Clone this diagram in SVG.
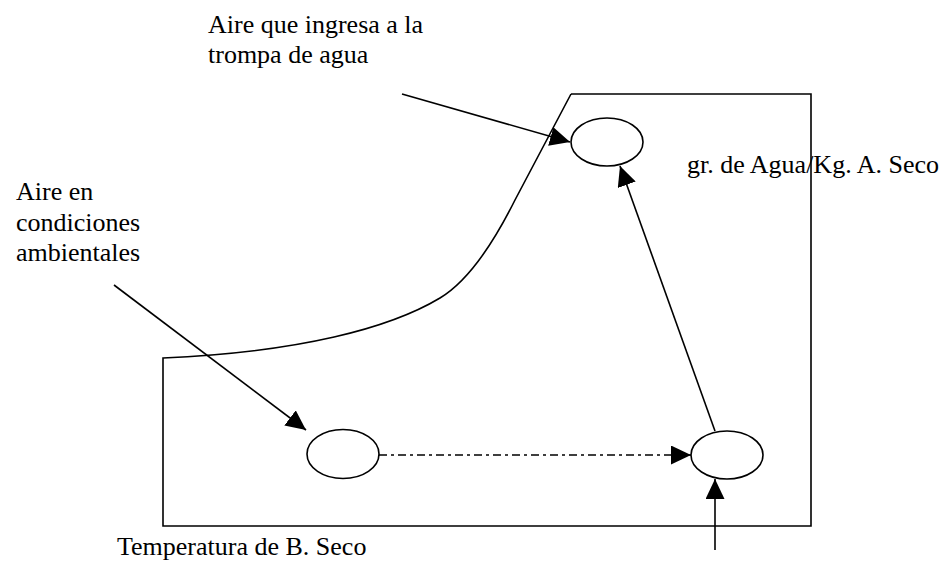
<svg xmlns="http://www.w3.org/2000/svg" width="952" height="565" viewBox="0 0 952 565">
<style>
.ln{fill:none;stroke:#000;stroke-width:1.6}
.nd{fill:#fff;stroke:#000;stroke-width:1.6}
.tx{font-family:"Liberation Serif","Times New Roman",serif;font-size:26px;fill:#000}
</style>
<defs>
<marker id="ah" markerUnits="userSpaceOnUse" markerWidth="20" markerHeight="19" refX="20" refY="9.5" orient="auto" viewBox="0 0 20 19">
<path d="M0,0 L20,9.5 L0,19 z" fill="#000"/>
</marker>
</defs>
<rect width="952" height="565" fill="#fff"/>
<g id="outline">
<path class="ln" d="M571,94 L811,94 L811,526 L163,526 L163,358 C300,352 390,328 440,298 C470,280 495,240 515,200 L571,94"/>
</g>
<g id="connectors">
<line class="ln" x1="402" y1="94" x2="570" y2="142" marker-end="url(#ah)"/>
<line class="ln" x1="114" y1="285" x2="306" y2="430" marker-end="url(#ah)"/>
<line class="ln" x1="379" y1="455" x2="691" y2="455" stroke-dasharray="8,4,3,4" marker-end="url(#ah)"/>
<line class="ln" x1="715" y1="431" x2="620" y2="166" marker-end="url(#ah)"/>
<line class="ln" x1="715" y1="550" x2="715" y2="479" marker-end="url(#ah)"/>
</g>
<g id="node-top"><ellipse class="nd" cx="607" cy="142" rx="36" ry="24"/></g>
<g id="node-left"><ellipse class="nd" cx="343" cy="454" rx="36" ry="24.5"/></g>
<g id="node-right"><ellipse class="nd" cx="727" cy="455" rx="36" ry="24"/></g>
<g id="labels">
<text class="tx" x="208" y="33">Aire que ingresa a la</text>
<text class="tx" x="208" y="63">trompa de agua</text>
<text class="tx" x="16" y="200">Aire en</text>
<text class="tx" x="16" y="231">condiciones</text>
<text class="tx" x="16" y="261">ambientales</text>
<text class="tx" x="687" y="173">gr. de Agua/Kg. A. Seco</text>
<text class="tx" x="117" y="555">Temperatura de B. Seco</text>
</g>
</svg>
